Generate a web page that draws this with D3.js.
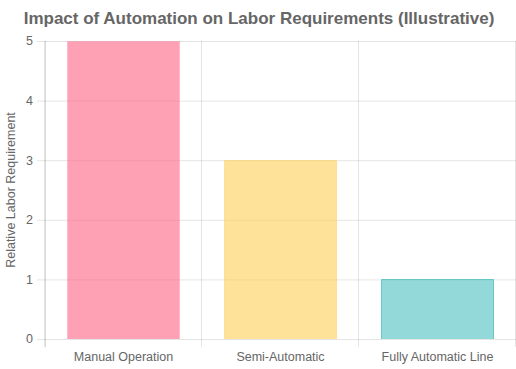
<!DOCTYPE html>
<html>
<head>
<meta charset="utf-8">
<script src="https://cdn.jsdelivr.net/npm/d3@7"></script>
<style>
  body { margin: 0; background: #fff; }
  svg { display: block; font-family: "Liberation Sans", Arial, Helvetica, sans-serif; }
</style>
</head>
<body>
<div id="chart"></div>
<script>
// chart data
let categories = ["Manual Operation", "Semi-Automatic", "Fully Automatic Line"];
let laborValues = [5, 3, 1];
let fillColors = ["rgba(255,99,132,0.6)", "rgba(255,206,86,0.6)", "rgba(75,192,192,0.6)"];
let borderColors = ["rgba(255,99,132,0.45)", "rgba(255,206,86,0.65)", "rgba(75,192,192,0.85)"];
let yTicks = [0, 1, 2, 3, 4, 5];

const width = 516, height = 369;
const margin = {top: 41, right: 0, bottom: 30, left: 45};

const svg = d3.select("#chart").append("svg")
  .attr("width", width).attr("height", height);

let x = d3.scaleBand().domain(categories)
  .range([margin.left, width - margin.right]);
let y = d3.scaleLinear().domain([0, 5])
  .range([height - margin.bottom, margin.top]);

// grid lines
let gridColor = "rgba(0,0,0,0.1)";
svg.append("g").selectAll("line").data(yTicks).join("line")
  .attr("x1", margin.left - 8).attr("x2", width)
  .attr("y1", d => y(d) + 0.5).attr("y2", d => y(d) + 0.5)
  .attr("stroke", gridColor);

let xEdges = categories.map(c => x(c)).concat([x.range()[1]]);
svg.append("g").selectAll("line").data(xEdges).join("line")
  .attr("x1", d => Math.round(d) - 0.5).attr("x2", d => Math.round(d) - 0.5)
  .attr("y1", margin.top).attr("y2", height - margin.bottom + 8)
  .attr("stroke", gridColor);

// y axis line
svg.append("line")
  .attr("x1", margin.left + 0.5).attr("x2", margin.left + 0.5)
  .attr("y1", margin.top).attr("y2", height - margin.bottom + 8)
  .attr("stroke", "rgba(0,0,0,0.15)");

// bars, chart.js style 0.8 * 0.9 of the category
let barW = Math.round(x.bandwidth() * 0.72);
let barX = (i) => Math.round(x(categories[i]) + (x.bandwidth() - barW) / 2);
let bars = svg.append("g");
// inner fill, border drawn beside it like chart.js does
bars.selectAll("rect").data(laborValues).join("rect")
  .attr("x", (d, i) => barX(i) + 1)
  .attr("y", d => Math.round(y(d)) + 1)
  .attr("width", barW - 2)
  .attr("height", d => y(0) - Math.round(y(d)) - 1)
  .attr("fill", (d, i) => fillColors[i]);

// border on top/left/right only (bottom skipped)
bars.selectAll("path").data(laborValues).join("path")
  .attr("d", (d, i) => {
    let x0 = barX(i) + 0.5, x1 = barX(i) + barW - 0.5;
    let y0 = Math.round(y(d)) + 0.5, yb = y(0);
    return `M${x0},${yb}V${y0}H${x1}V${yb}`;
  })
  .attr("fill", "none")
  .attr("stroke", (d, i) => borderColors[i])
  .attr("stroke-width", 1);

// tick labels
svg.append("g").selectAll("text").data(yTicks).join("text")
  .attr("x", margin.left - 12).attr("y", d => y(d))
  .attr("dy", "0.35em")
  .attr("text-anchor", "end")
  .attr("font-size", 12.5).attr("fill", "#666")
  .text(d => d);

svg.append("g").selectAll("text").data(categories).join("text")
  .attr("x", d => x(d) + x.bandwidth() / 2)
  .attr("y", height - margin.bottom + 22)
  .attr("text-anchor", "middle")
  .attr("font-size", 12.5).attr("fill", "#666")
  .text(d => d);

// axis title
svg.append("text")
  .attr("transform", `translate(15,${(y(0) + y(5)) / 2}) rotate(-90)`)
  .attr("text-anchor", "middle")
  .attr("font-size", 12.5).attr("fill", "#666")
  .text("Relative Labor Requirement");

// chart title
svg.append("text")
  .attr("x", width / 2 + 1).attr("y", 24)
  .attr("text-anchor", "middle")
  .attr("font-size", 17).attr("font-weight", "bold").attr("fill", "#666")
  .text("Impact of Automation on Labor Requirements (Illustrative)");
</script>
</body>
</html>
